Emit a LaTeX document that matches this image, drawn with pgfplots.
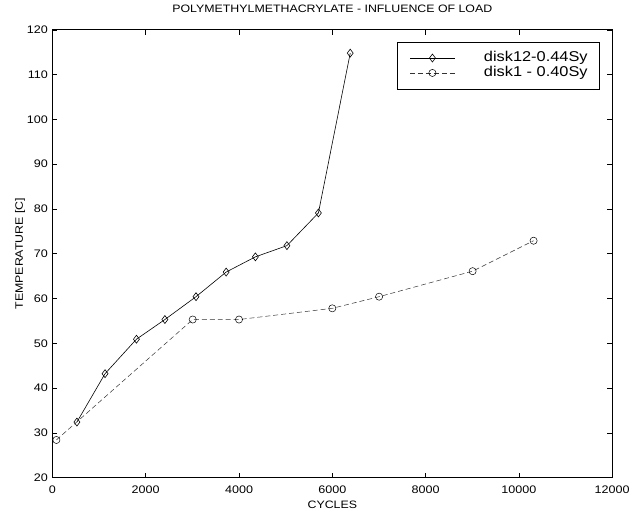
\documentclass[border=0pt]{standalone}
\usepackage{pgfplots}
\pgfplotsset{compat=1.18}
\usepackage{fontspec}
\setmainfont[FakeStretch=1.15]{Liberation Sans}
\begin{document}
\begin{tikzpicture}
\begin{axis}[
  scale only axis,
  width=562.6pt, height=450pt,
  xmin=0, xmax=12000, ymin=20, ymax=120,
  xtick={0,2000,...,12000},
  ytick={20,30,...,120},
  scaled x ticks=false,
  /pgf/number format/1000 sep={},
  /pgf/number format/assume math mode=true,
  tick align=inside,
  major tick length=5pt,
  tick style={black, line width=0.5pt},
  axis line style={line width=0.7pt},
  ticklabel style={font=\fontsize{11}{13}\selectfont},
  xticklabel style={anchor=base, yshift=-16.5pt},
  yticklabel style={inner sep=0pt, xshift=-4.4pt},
  title={POLYMETHYLMETHACRYLATE - INFLUENCE OF LOAD},
  title style={at={(axis description cs:0.5,1)}, anchor=base, yshift=11pt, font=\fontsize{10.8}{13}\selectfont},
  xlabel={CYCLES},
  xlabel style={at={(axis description cs:0.5,0)}, anchor=base, yshift=-31.5pt, font=\fontsize{10.8}{13}\selectfont},
  ylabel={TEMPERATURE [C]},
  ylabel style={at={(axis description cs:-0.0528,0.5)}, anchor=base, font=\fontsize{10.8}{13}\selectfont},
  legend style={at={(0.978,0.9733)}, anchor=north east, draw=black, line width=0.6pt,
    font=\fontsize{14.3}{15}\selectfont, inner xsep=12pt, inner ysep=8.5pt,
    nodes={inner sep=0pt, text height=11pt, text depth=4pt},
    column sep=29pt},
  legend cell align=left,
  legend image code/.code={\draw[mark repeat=2,mark phase=2] plot coordinates {(0pt,0pt) (22.5pt,0pt) (45pt,0pt)};},
]
\addplot[black, line width=0.6pt, mark=diamond, mark size=4pt, mark options={solid, fill=white}]
  coordinates {(525,32.4) (1128,43.2) (1801,50.9) (2411,55.3) (3078,60.4) (3724,65.9) (4351,69.3) (5027,71.8) (5702,79.1) (6384,114.8)};
\addlegendentry{disk12-0.44Sy\hspace{5pt}}
\addplot[black!80, line width=0.5pt, dash pattern=on 5pt off 3pt, mark=o, mark size=3.6pt, mark options={solid, black, fill=white}]
  coordinates {(85,28.4) (3007,55.3) (4000,55.3) (6000,57.8) (7003,60.4) (9008,66.1) (10315,72.9)};
\addlegendentry{disk1 - 0.40Sy\hspace{5pt}}
\end{axis}
\path ([xshift=-52.7pt,yshift=-34pt]current axis.south west) rectangle ([xshift=17.7pt,yshift=30pt]current axis.north east);
\end{tikzpicture}
\end{document}
